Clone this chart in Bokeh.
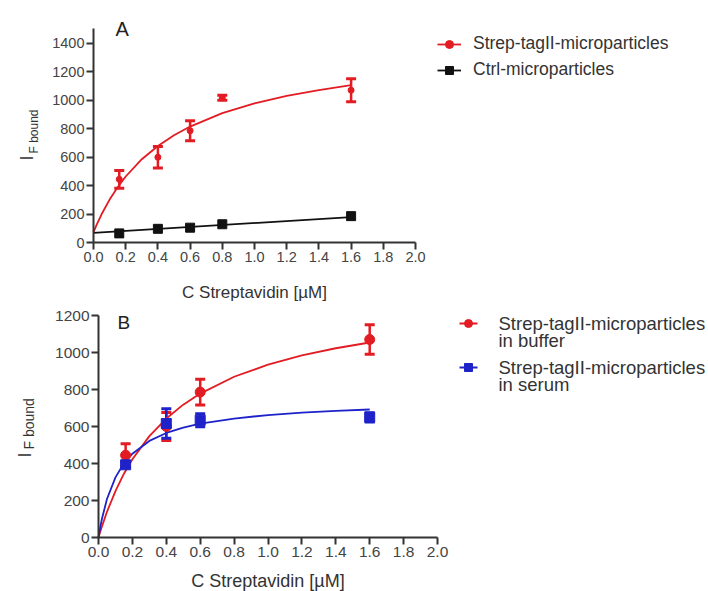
import math
from bokeh.plotting import figure
from bokeh.models import (Range1d, FixedTicker, Whisker, TeeHead, ColumnDataSource,
                          Label, Legend, LegendItem)
from bokeh.layouts import column
from bokeh.embed import file_html
from bokeh.resources import INLINE
from bokeh.core.properties import value

FONT = "Liberation Sans"
RED = "#e31b23"
BLUE = "#1e22c8"
BLACK = "#111111"
AXIS = "#333333"
TICKTXT = "#444444"

# ---------------- data: panel A ----------------
conc_a = [0.16, 0.4, 0.6, 0.8, 1.6]
strep_a = [445, 600, 786, 1017, 1070]
strep_a_err = [62, 76, 70, 18, 80]
ctrl_a = [66, 98, 106, 130, 187]

fit_x_a = [0.0, 0.02, 0.05, 0.1, 0.15, 0.2, 0.3, 0.4, 0.5, 0.6, 0.8, 1.0, 1.2, 1.4, 1.6]
strep_a_fit = [75, 128, 200, 303, 390, 465, 586, 679, 754, 815, 909, 978, 1030, 1071, 1105]
ctrl_fit_x = [0.0, 1.6]
ctrl_a_fit = [70, 180]

# ---------------- data: panel B ----------------
conc_b = [0.16, 0.4, 0.6, 1.6]
buffer_b = [445, 600, 786, 1070]
buffer_b_err = [62, 76, 70, 80]
serum_b = [393, 616, 634, 650]
serum_b_err = [15, 80, 35, 25]

fit_x_b = [0.0, 0.01, 0.02, 0.05, 0.1, 0.15, 0.2, 0.3, 0.4, 0.5, 0.6, 0.8, 1.0, 1.2, 1.4, 1.6]
buffer_b_fit = [0, 30, 59, 139, 251, 345, 423, 548, 643, 718, 778, 869, 934, 984, 1023, 1054]
serum_b_fit = [0, 53, 100, 208, 325, 401, 453, 522, 565, 594, 615, 643, 662, 675, 684, 692]

# ---------------- ticks / texts ----------------
x_ticks = [0.0, 0.2, 0.4, 0.6, 0.8, 1.0, 1.2, 1.4, 1.6, 1.8, 2.0]
x_tick_labels = ["0.0", "0.2", "0.4", "0.6", "0.8", "1.0", "1.2", "1.4", "1.6", "1.8", "2.0"]
y_ticks_a = [0, 200, 400, 600, 800, 1000, 1200, 1400]
y_ticks_b = [0, 200, 400, 600, 800, 1000, 1200]
x_title = "C Streptavidin [\u00b5M]"
legend_a = ["Strep-tagII-microparticles", "Ctrl-microparticles"]
legend_b = [["Strep-tagII-microparticles", "in buffer"],
            ["Strep-tagII-microparticles", "in serum"]]


def style(p, yticks, ybound, tick_fs, title_fs, title_standoff):
    p.xgrid.visible = False
    p.ygrid.visible = False
    p.outline_line_color = None
    p.xaxis.fixed_location = 0
    p.yaxis.fixed_location = 0
    p.xaxis.bounds = (0, 2.0)
    p.yaxis.bounds = (0, ybound)
    p.xaxis.ticker = FixedTicker(ticks=x_ticks)
    p.xaxis.major_label_overrides = {t: l for t, l in zip(x_ticks, x_tick_labels)}
    p.yaxis.ticker = FixedTicker(ticks=yticks)
    for ax in (p.xaxis[0], p.yaxis[0]):
        ax.axis_line_color = AXIS
        ax.axis_line_width = 2
        ax.major_tick_line_color = AXIS
        ax.major_tick_line_width = 2
        ax.major_tick_out = 7
        ax.major_tick_in = 0
        ax.minor_tick_line_color = None
        ax.major_label_text_font = FONT
        ax.major_label_text_font_size = tick_fs
        ax.major_label_text_color = TICKTXT
        ax.major_label_standoff = 2
    p.xaxis.axis_label = x_title
    p.xaxis.axis_label_text_font = FONT
    p.xaxis.axis_label_text_font_style = "normal"
    p.xaxis.axis_label_text_font_size = title_fs
    p.xaxis.axis_label_text_color = "#333333"
    p.xaxis.axis_label_standoff = title_standoff


def errbars(p, xs, ys, errs, color):
    src = ColumnDataSource(dict(x=xs, upper=[y + e for y, e in zip(ys, errs)],
                                lower=[y - e for y, e in zip(ys, errs)]))
    w = Whisker(base="x", upper="upper", lower="lower", source=src, dimension="height",
                line_color=color, line_width=2.5,
                upper_head=TeeHead(size=10, line_color=color, line_width=3),
                lower_head=TeeHead(size=10, line_color=color, line_width=3))
    p.add_layout(w)


def make_fig(h, x0px, xscale, y0px, yscale):
    # the frame fills the whole canvas; axes sit at x=0 / y=0 via fixed_location
    return figure(width=708, height=h, output_backend="svg", toolbar_location=None, title=None,
                  x_range=Range1d(-x0px / xscale, (708 - x0px) / xscale),
                  y_range=Range1d(-(h - y0px) / yscale, y0px / yscale),
                  min_border_left=0, min_border_right=0, min_border_top=0, min_border_bottom=0,
                  background_fill_color="white", border_fill_color="white")


def text_label(p, x, y, txt, size, angle=0.0, color="#333333"):
    p.add_layout(Label(x=x, y=y, text=txt, angle=angle,
                       text_font=FONT, text_font_size=size, text_color=color,
                       text_baseline="middle", text_align="left"))


# ================= Panel A =================
AX0, AXS, AY0, AYS = 93.0, 161.0, 242.3, 0.1426
pa = make_fig(301, AX0, AXS, AY0, AYS)
style(pa, y_ticks_a, 1500, "14.5px", "17px", 18)


def ax_(px):
    return (px - AX0) / AXS


def ay_(py):
    return (AY0 - py) / AYS


ra_line = pa.line(fit_x_a, strep_a_fit, line_color=RED, line_width=1.8)
ka_line = pa.line(ctrl_fit_x, ctrl_a_fit, line_color=BLACK, line_width=1.8)
errbars(pa, conc_a, strep_a, strep_a_err, RED)
ra_pts = pa.scatter(conc_a, strep_a, marker="circle", size=6, fill_color=RED, line_color=RED)
ka_pts = pa.scatter(conc_a, ctrl_a, marker="square", size=9, fill_color=BLACK, line_color=BLACK)

leg_a = Legend(items=[
    LegendItem(label=legend_a[0], renderers=[ra_line, ra_pts]),
    LegendItem(label=legend_a[1], renderers=[ka_line, ka_pts]),
], location=(437, 221), glyph_width=24, glyph_height=20, label_height=20,
    label_standoff=12, spacing=5, padding=0, margin=0,
    border_line_color=None, background_fill_alpha=0,
    label_text_font=FONT, label_text_font_size="17.5px", label_text_color="#333333")
pa.add_layout(leg_a)

text_label(pa, ax_(115), ay_(28), "A", "20px", color="#222222")
text_label(pa, ax_(26.7), ay_(160), "I", "18px", angle=math.pi / 2)
text_label(pa, ax_(33.8), ay_(153), "F bound", "12px", angle=math.pi / 2)

# ================= Panel B =================
BX0, BXS, BY0, BYS = 98.0, 169.5, 236.0, 0.185
pb = make_fig(290, BX0, BXS, BY0, BYS)
style(pb, y_ticks_b, 1200, "15.5px", "18px", 11)


def bx_(px):
    return (px - BX0) / BXS


def by_(py_abs):
    return (BY0 + 301 - py_abs) / BYS


rb_line = pb.line(fit_x_b, buffer_b_fit, line_color=RED, line_width=1.8)
bb_line = pb.line(fit_x_b, serum_b_fit, line_color=BLUE, line_width=1.8)
errbars(pb, conc_b, buffer_b, buffer_b_err, RED)
errbars(pb, conc_b, serum_b, serum_b_err, BLUE)
rb_pts = pb.scatter(conc_b, buffer_b, marker="circle", size=10, fill_color=RED, line_color=RED)
bb_pts = pb.scatter(conc_b, serum_b, marker="square", size=10, fill_color=BLUE, line_color=BLUE)

# legend for panel B (two-line entries, sample glyph beside the first line)
for (line1, line2), color, marker, gy, ty2 in (
        (legend_b[0], RED, "circle", 323, 340),
        (legend_b[1], BLUE, "square", 367, 384)):
    pb.line([bx_(459), bx_(477)], [by_(gy), by_(gy)], line_color=color, line_width=1.8)
    pb.scatter([bx_(468)], [by_(gy)], marker=marker, size=8, fill_color=color, line_color=color)
    pb.text([bx_(498), bx_(498)], [by_(gy), by_(ty2)], text=[line1, line2],
            text_font=value(FONT), text_font_size=value("18.5px"), text_color="#333333",
            text_baseline="middle", text_align="left")

text_label(pb, bx_(117), by_(321.5), "B", "19px", color="#222222")
text_label(pb, bx_(24.7), by_(457), "I", "18px", angle=math.pi / 2)
text_label(pb, bx_(28.5), by_(449), "F bound", "14px", angle=math.pi / 2)

layout = column(pa, pb, spacing=0)
open("out.html", "w").write(file_html(layout, INLINE))
